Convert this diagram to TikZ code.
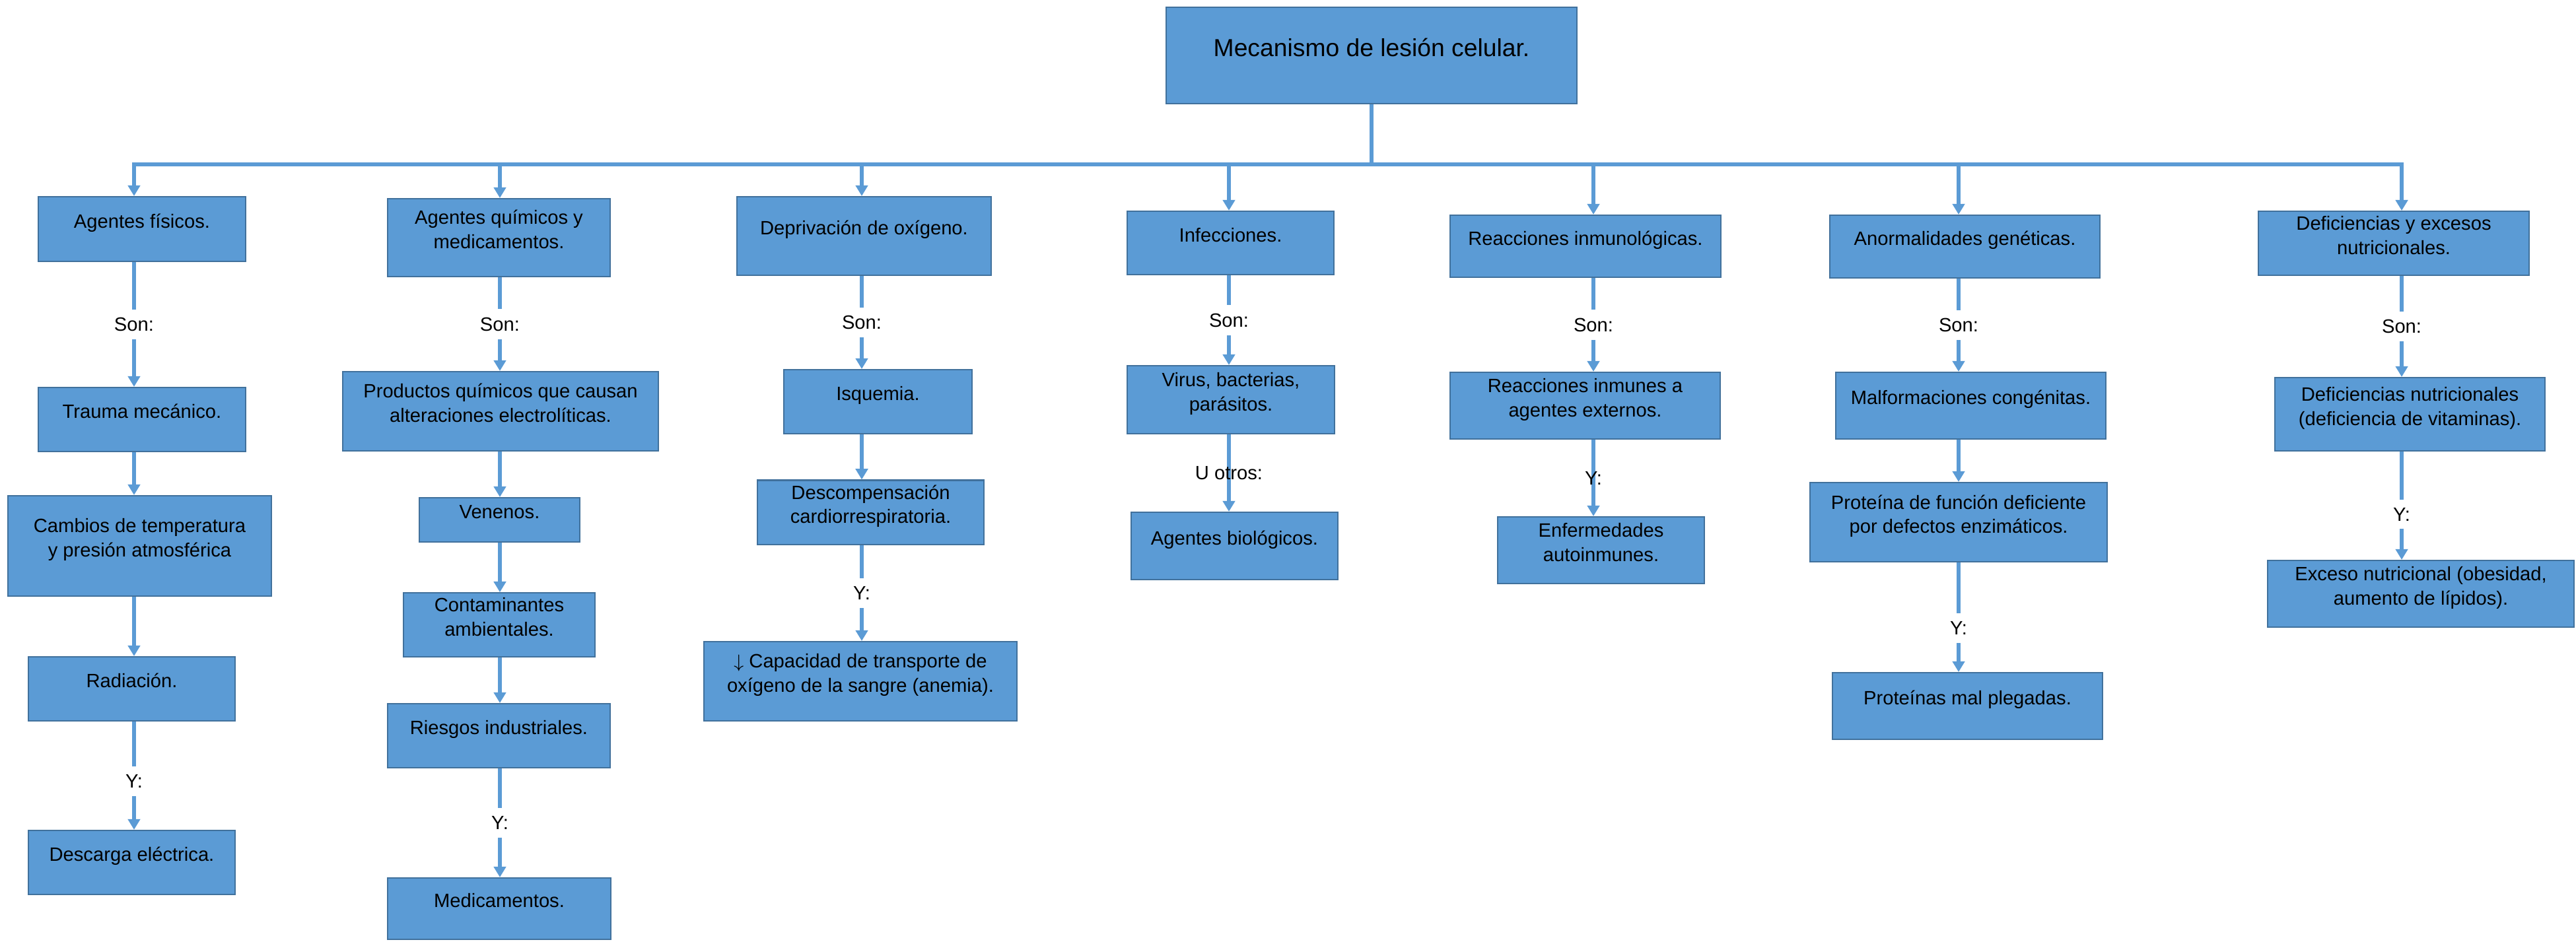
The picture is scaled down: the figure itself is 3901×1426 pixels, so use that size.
\documentclass[tikz,border=0pt]{standalone}
\usepackage{fontspec}
\setmainfont{Liberation Sans}
\usetikzlibrary{arrows.meta}

\definecolor{boxblue}{HTML}{5B9BD5}
\definecolor{boxedge}{HTML}{41719C}

\begin{document}
\begin{tikzpicture}[
    x=0.01cm, y=-0.01cm,
    box/.style={
        rectangle,
        draw=boxedge, line width=0.6pt,
        fill=boxblue,
        align=center,
        font=\fontsize{8.3}{10.5}\selectfont,
        inner sep=2pt,
        execute at end node={\rule[-7pt]{0pt}{7pt}}
    },
    link/.style={
        draw=boxblue, line width=1.6pt
    },
    arrow/.style={
        link, -{Triangle[width=5.2pt,length=4.6pt]}
    },
    word/.style={
        fill=white, inner sep=3.5pt,
        font=\fontsize{8.3}{10.5}\selectfont
    },
    bare_word/.style={
        word, fill=none
    }
]

\useasboundingbox (0,0) rectangle (3901,1426);

\node (root) [box, minimum width=6.22cm, minimum height=1.46cm, font=\fontsize{10.6}{13}\selectfont] at (2077,84) {Mecanismo de lesión celular.};

\coordinate (c1) at (203,249);
\coordinate (c2) at (757,249);
\coordinate (c3) at (1305,249);
\coordinate (c4) at (1861,249);
\coordinate (c5) at (2413,249);
\coordinate (c6) at (2966,249);
\coordinate (c7) at (3637,249);

\node (fis) [box, minimum width=3.14cm, minimum height=0.98cm] at (215,347) {Agentes físicos.};
\node (trauma) [box, minimum width=3.14cm, minimum height=0.97cm] at (215,635.5) {Trauma mecánico.};
\node (cambios) [box, minimum width=3.99cm, minimum height=1.52cm] at (211.5,827) {Cambios de temperatura\\y presión atmosférica};
\node (radiacion) [box, minimum width=3.13cm, minimum height=0.97cm] at (199.5,1043.5) {Radiación.};
\node (descarga) [box, minimum width=3.13cm, minimum height=0.97cm] at (199.5,1306.5) {Descarga eléctrica.};

\node (quim) [box, minimum width=3.37cm, minimum height=1.18cm] at (755.5,360) {Agentes químicos y\\medicamentos.};
\node (productos) [box, minimum width=4.78cm, minimum height=1.2cm] at (758,623) {Productos químicos que causan\\alteraciones electrolíticas.};
\node (venenos) [box, minimum width=2.43cm, minimum height=0.67cm] at (756.5,787.5) {Venenos.};
\node (contam) [box, minimum width=2.9cm, minimum height=0.95cm] at (756,946.5) {Contaminantes\\ambientales.};
\node (riesgos) [box, minimum width=3.37cm, minimum height=0.97cm] at (755.5,1114.5) {Riesgos industriales.};
\node (medic) [box, minimum width=3.38cm, minimum height=0.93cm] at (756,1376.5) {Medicamentos.};

\node (depriv) [box, minimum width=3.85cm, minimum height=1.19cm] at (1308.5,357.5) {Deprivación de oxígeno.};
\node (isquemia) [box, minimum width=2.85cm, minimum height=0.97cm] at (1329.5,608.5) {Isquemia.};
\node (descomp) [box, minimum width=3.43cm, minimum height=0.96cm] at (1318.5,776) {Descompensación\\cardiorrespiratoria.};
\node (capac) [box, minimum width=4.73cm, minimum height=1.2cm] at (1303,1032) {$\downarrow$ Capacidad de transporte de\\oxígeno de la sangre (anemia).};

\node (infec) [box, minimum width=3.13cm, minimum height=0.96cm] at (1863.5,368) {Infecciones.};
\node (virus) [box, minimum width=3.14cm, minimum height=1.03cm] at (1864,605.5) {Virus, bacterias,\\parásitos.};
\node (bio) [box, minimum width=3.13cm, minimum height=1.02cm] at (1869.5,827) {Agentes biológicos.};

\node (inmuno) [box, minimum width=4.1cm, minimum height=0.94cm] at (2401,373) {Reacciones inmunológicas.};
\node (reacext) [box, minimum width=4.09cm, minimum height=1.01cm] at (2400.5,614.5) {Reacciones inmunes a\\agentes externos.};
\node (autoinm) [box, minimum width=3.13cm, minimum height=1.01cm] at (2424.5,833.5) {Enfermedades\\autoinmunes.};

\node (genet) [box, minimum width=4.09cm, minimum height=0.95cm] at (2975.5,373.5) {Anormalidades genéticas.};
\node (malf) [box, minimum width=4.09cm, minimum height=1.01cm] at (2984.5,614.5) {Malformaciones congénitas.};
\node (prot) [box, minimum width=4.5cm, minimum height=1.2cm] at (2966,791) {Proteína de función deficiente\\por defectos enzimáticos.};
\node (plegadas) [box, minimum width=4.09cm, minimum height=1.01cm] at (2979.5,1069.5) {Proteínas mal plegadas.};

\node (defexc) [box, minimum width=4.1cm, minimum height=0.93cm] at (3625,368.5) {Deficiencias y excesos\\nutricionales.};
\node (defnut) [box, minimum width=4.09cm, minimum height=1.11cm] at (3649.5,627.5) {Deficiencias nutricionales\\(deficiencia de vitaminas).};
\node (exceso) [box, minimum width=4.63cm, minimum height=1.01cm] at (3666,899.5) {Exceso nutricional (obesidad,\\aumento de lípidos).};

\draw [arrow] (root.south) |- (c1) -- (fis.north -| c1);
\draw [arrow] (root.south) |- (c7) -- (defexc.north -| c7);
\draw [arrow] (c2) -- (quim.north -| c2);
\draw [arrow] (c3) -- (depriv.north -| c3);
\draw [arrow] (c4) -- (infec.north -| c4);
\draw [arrow] (c5) -- (inmuno.north -| c5);
\draw [arrow] (c6) -- (genet.north -| c6);

\draw [arrow] (fis.south -| c1) -- node (son1) [word] {Son:} (trauma.north -| c1);
\draw [arrow] (trauma.south -| c1) -- (cambios.north -| c1);
\draw [arrow] (cambios.south -| c1) -- (radiacion.north -| c1);
\draw [arrow] (radiacion.south -| c1) -- node (y1) [word, pos=0.55] {Y:} (descarga.north -| c1);

\draw [arrow] (quim.south -| c2) -- node (son2) [word] {Son:} (productos.north -| c2);
\draw [arrow] (productos.south -| c2) -- (venenos.north -| c2);
\draw [arrow] (venenos.south -| c2) -- (contam.north -| c2);
\draw [arrow] (contam.south -| c2) -- (riesgos.north -| c2);
\draw [arrow] (riesgos.south -| c2) -- node (y2) [word] {Y:} (medic.north -| c2);

\draw [arrow] (depriv.south -| c3) -- node (son3) [word] {Son:} (isquemia.north -| c3);
\draw [arrow] (isquemia.south -| c3) -- (descomp.north -| c3);
\draw [arrow] (descomp.south -| c3) -- node (y3) [word] {Y:} (capac.north -| c3);

\draw [arrow] (infec.south -| c4) -- node (son4) [word] {Son:} (virus.north -| c4);
\draw [arrow] (virus.south -| c4) -- node (otros4) [bare_word] {U otros:} (bio.north -| c4);

\draw [arrow] (inmuno.south -| c5) -- node (son5) [word] {Son:} (reacext.north -| c5);
\draw [arrow] (reacext.south -| c5) -- node (y5) [bare_word] {Y:} (autoinm.north -| c5);

\draw [arrow] (genet.south -| c6) -- node (son6) [word] {Son:} (malf.north -| c6);
\draw [arrow] (malf.south -| c6) -- (prot.north -| c6);
\draw [arrow] (prot.south -| c6) -- node (y6) [word, pos=0.6] {Y:} (plegadas.north -| c6);

\draw [arrow] (defexc.south -| c7) -- node (son7) [word] {Son:} (defnut.north -| c7);
\draw [arrow] (defnut.south -| c7) -- node (y7) [word, pos=0.58] {Y:} (exceso.north -| c7);

\end{tikzpicture}
\end{document}
